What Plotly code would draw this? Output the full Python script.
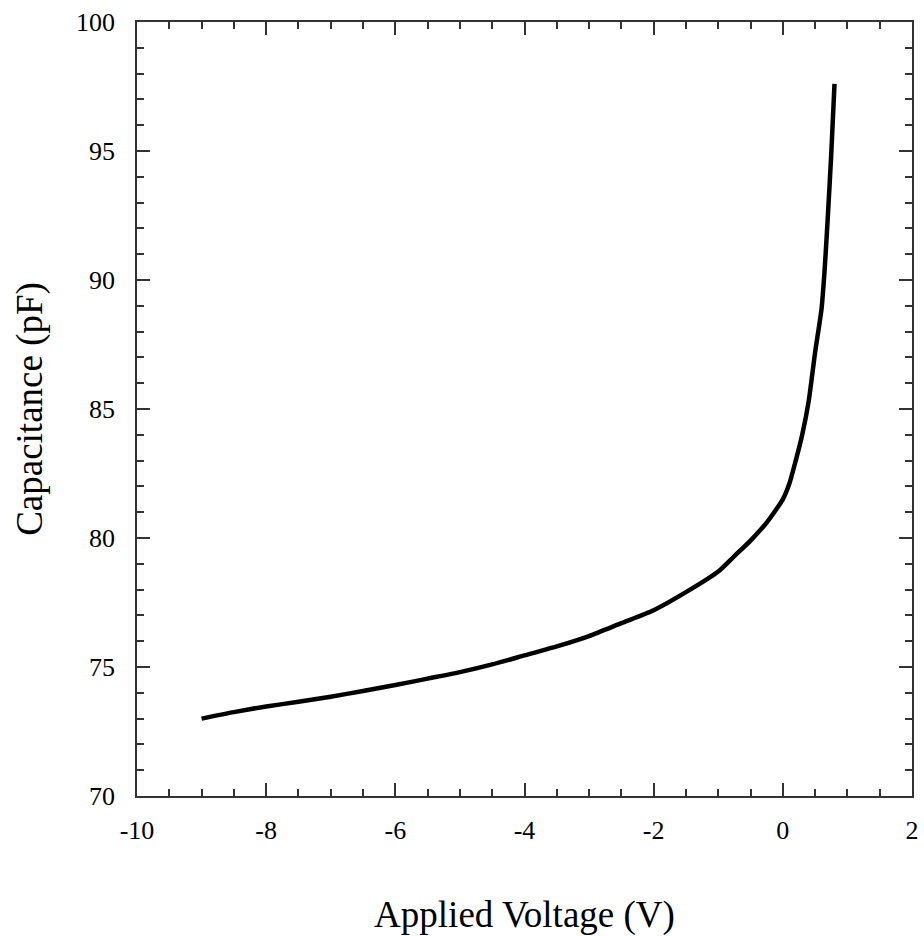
import plotly.graph_objects as go

voltage = [-9.0, -8.5, -8.0, -7.5, -7.0, -6.5, -6.0, -5.5, -5.0, -4.5, -4.0, -3.5,
           -3.0, -2.5, -2.0, -1.5, -1.0, -0.75, -0.5, -0.25, 0.0, 0.1, 0.2, 0.3,
           0.4, 0.5, 0.6, 0.65, 0.7, 0.75, 0.8]
capacitance = [73.0, 73.25, 73.47, 73.65, 73.85, 74.07, 74.3, 74.55, 74.8, 75.1, 75.45, 75.8,
               76.2, 76.7, 77.2, 77.9, 78.7, 79.3, 79.9, 80.6, 81.5, 82.1, 83.0, 84.0,
               85.3, 87.2, 88.9, 90.5, 92.6, 94.9, 97.6]

x_ticks = [-10, -8, -6, -4, -2, 0, 2]
y_ticks = [70, 75, 80, 85, 90, 95, 100]

FONT = "Liberation Serif"

fig = go.Figure()
fig.add_trace(go.Scatter(x=voltage, y=capacitance, mode="lines",
                         line=dict(color="black", width=4.5, shape="spline", smoothing=0.6),
                         showlegend=False))

axis_common = dict(
    showgrid=False, zeroline=False, showline=True, linecolor="#333333", linewidth=1.5,
    mirror="ticks", ticks="inside", ticklen=13, tickwidth=1.5, tickcolor="#333333",
    tickfont=dict(family=FONT, size=26, color="black"),
)

fig.update_xaxes(range=[-10, 2], tickvals=x_ticks, ticktext=[str(v) for v in x_ticks],
                 minor=dict(dtick=0.5, ticks="inside", ticklen=7, tickwidth=1.5, tickcolor="#333333"),
                 title=dict(text="Applied Voltage (V)", font=dict(family=FONT, size=37, color="black"),
                            standoff=57),
                 ticklabelstandoff=10,
                 **axis_common)
fig.update_yaxes(range=[70, 100], tickvals=y_ticks, ticktext=[str(v) for v in y_ticks],
                 minor=dict(dtick=1, ticks="inside", ticklen=7, tickwidth=1.5, tickcolor="#333333"),
                 title=dict(text="Capacitance (pF)", font=dict(family=FONT, size=37, color="black"),
                            standoff=22),
                 ticklabelstandoff=15,
                 **axis_common)

fig.update_layout(
    width=924, height=936,
    margin=dict(l=137, r=12, t=22, b=140, autoexpand=False),
    plot_bgcolor="white", paper_bgcolor="white",
)

fig.write_html("out.html")
